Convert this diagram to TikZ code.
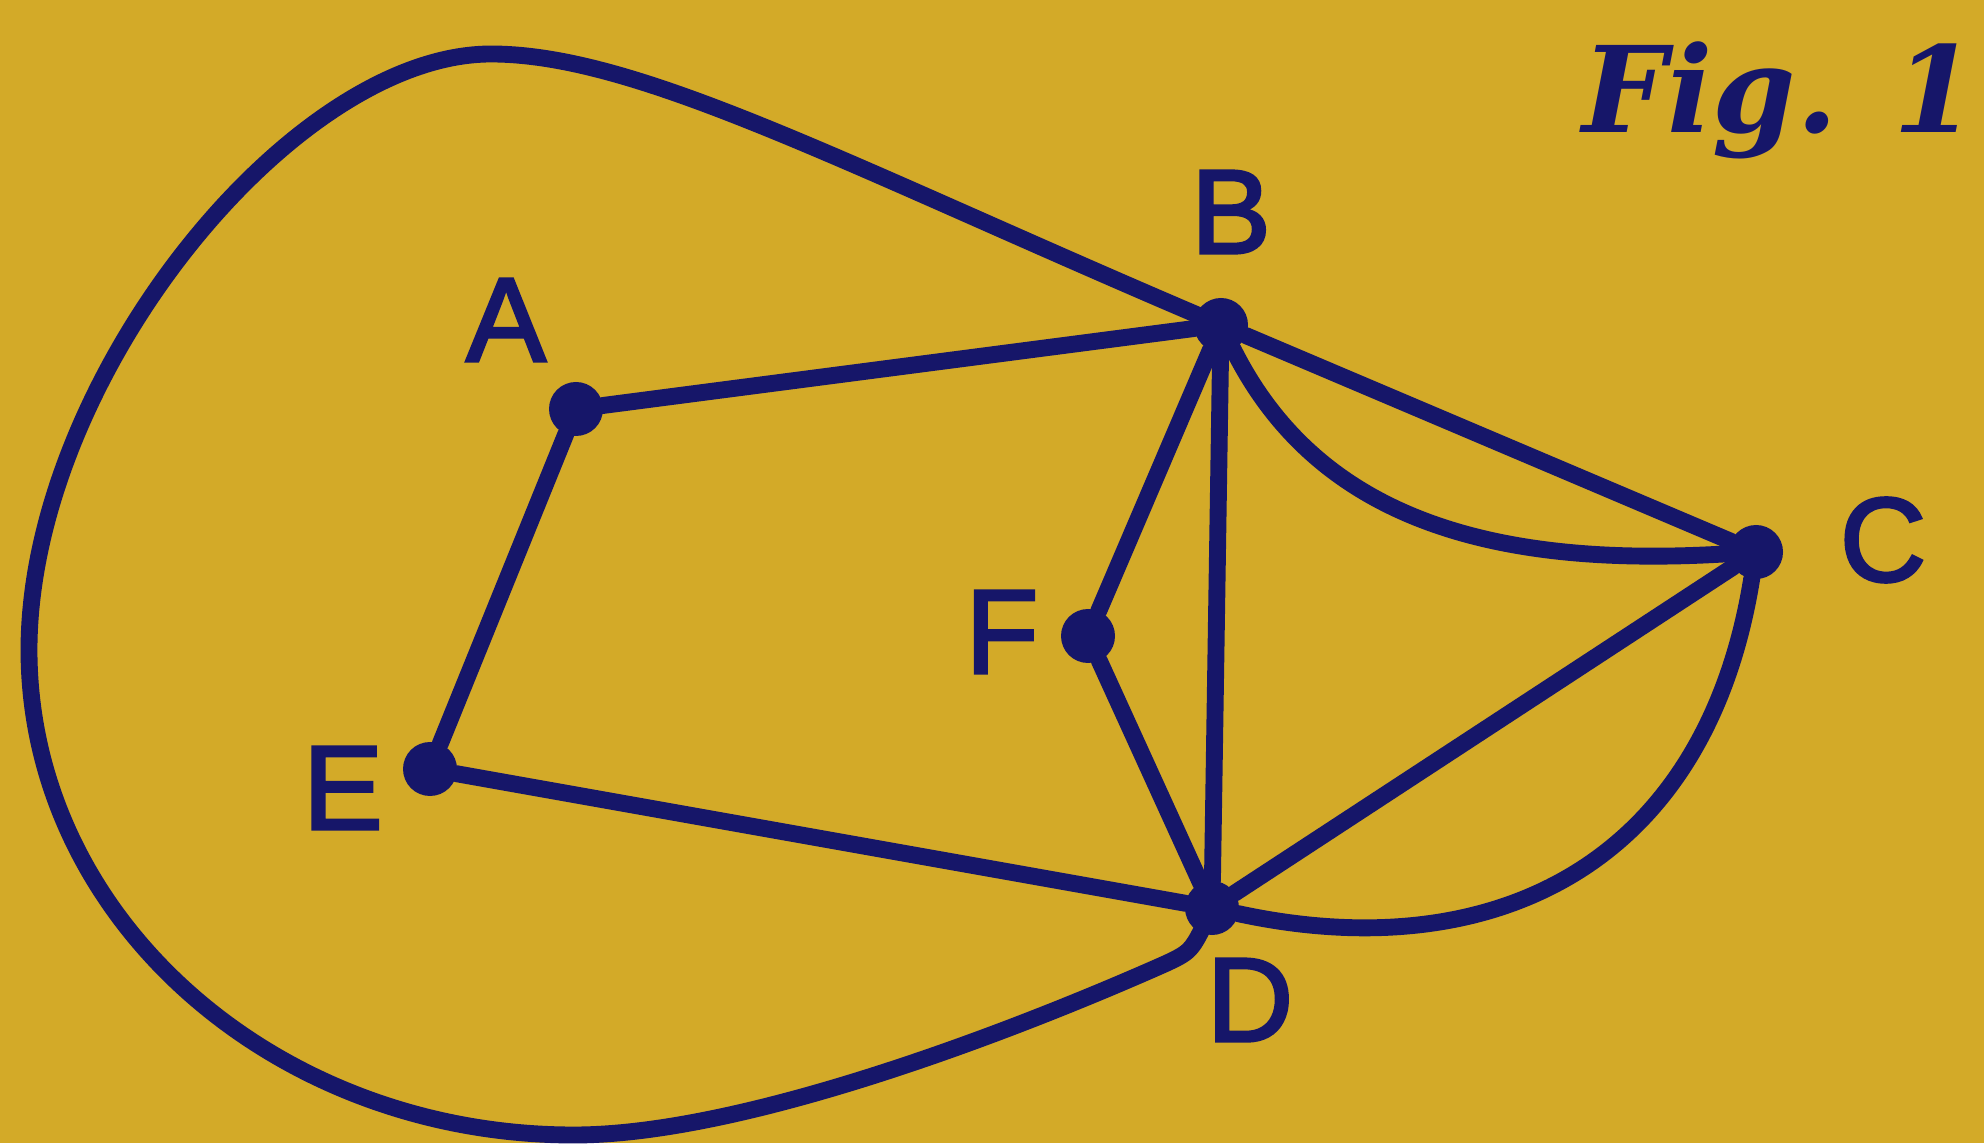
\documentclass[tikz,border=0pt]{standalone}
\usepackage{fontspec}
\setmainfont{DejaVu Serif}
\newfontfamily\lblfont[FakeBold=2.5]{Liberation Sans}
\definecolor{bggold}{RGB}{211,170,40}
\definecolor{ink}{RGB}{22,22,105}
\tikzset{
    dot/.style={circle, fill=ink, inner sep=0pt, outer sep=0pt, minimum size=0.54cm},
    edge/.style={draw=ink, line width=4.8pt, line cap=round, line join=round},
    lbl/.style={text=ink, inner sep=0pt, font=\lblfont\fontsize{34}{34}\selectfont}
}
\begin{document}
\begin{tikzpicture}
    % 背景
    \fill[bggold] (0,0) rectangle (19.84,11.43);
    \useasboundingbox (0,0) rectangle (19.84,11.43);

    % 顶点
    \node[dot] (A) at (5.76,7.34) {};
    \node[dot] (B) at (12.21,8.18) {};
    \node[dot] (C) at (17.56,5.91) {};
    \node[dot] (D) at (12.12,2.35) {};
    \node[dot] (E) at (4.30,3.74) {};
    \node[dot] (F) at (10.88,5.07) {};

    % 直边
    \draw[edge] (A) -- (B);
    \draw[edge] (A) -- (E);
    \draw[edge] (E) -- (D);
    \draw[edge] (B) -- (F);
    \draw[edge] (F) -- (D);
    \draw[edge] (B) -- (D);
    \draw[edge] (B) -- (C);
    \draw[edge] (D) -- (C);

    % 曲边 B--C, D--C
    \draw[edge] (B) .. controls (13.2,6.2) and (15.0,5.75) .. (C);
    \draw[edge] (D) .. controls (14.9,1.75) and (17.05,2.75) .. (C);

    % 外侧大曲线 B--D
    \draw[edge] (B.center) .. controls (8.53,9.74) and (6.41,10.89) .. (4.91,10.89)
        .. controls (2.91,10.89) and (0.29,7.63) .. (0.29,4.93)
        .. controls (0.29,2.25) and (2.74,0.08) .. (5.74,0.08)
        .. controls (7.5,0.08) and (10.30,1.19) .. (11.67,1.80)
        .. controls (11.92,1.92) .. (D.center);

    % 顶点标注
    \node[lbl] (labA) at (5.06,8.23) {A};
    \node[lbl] (labB) at (12.31,9.31) {B};
    \node[lbl] (labC) at (18.83,6.03) {C};
    \node[lbl] (labD) at (12.50,1.43) {D};
    \node[lbl] (labE) at (3.43,3.55) {E};
    \node[lbl] (labF) at (10.02,5.11) {F};

    % 图题
    \node[text=ink, inner sep=0pt, anchor=base east,
          font=\bfseries\itshape\fontsize{34}{34}\selectfont] (title) at (19.77,10.10) {Fig. 1};
\end{tikzpicture}
\end{document}
